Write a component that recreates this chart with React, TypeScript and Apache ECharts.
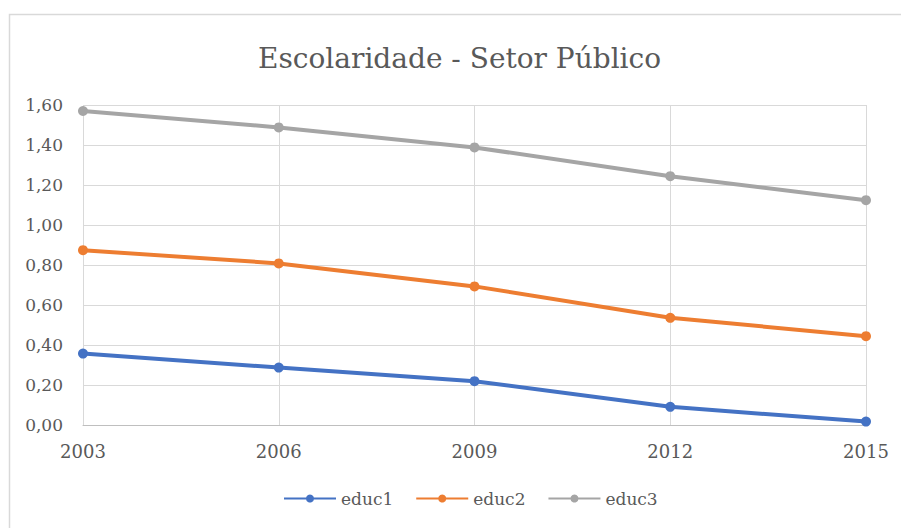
import React, { useEffect, useRef } from "react";
import * as echarts from "echarts";

const years = ["2003", "2006", "2009", "2012", "2015"];
const educ1 = [0.357, 0.287, 0.219, 0.091, 0.017];
const educ2 = [0.874, 0.808, 0.693, 0.536, 0.444];
const educ3 = [1.57, 1.488, 1.388, 1.244, 1.124];
const seriesNames = ["educ1", "educ2", "educ3"];
const colors = ["#4472C4", "#ED7D31", "#A5A5A5"];

export default function App() {
  const ref = useRef<HTMLDivElement>(null);
  useEffect(() => {
    if (!ref.current) return;
    const chart = echarts.init(ref.current, null, { renderer: "svg" });
    const font = "DejaVu Serif";
    const data = [educ1, educ2, educ3];
    chart.setOption({
      animation: false,
      backgroundColor: "#ffffff",
      textStyle: { fontFamily: font },
      title: {
        text: "Escolaridade - Setor Público",
        left: 258,
        top: 44,
        padding: 0,
        textStyle: { fontFamily: font, fontSize: 28, fontWeight: "normal", color: "#595959" },
      },
      graphic: [
        {
          type: "rect",
          shape: { x: 9.5, y: 14.5, width: 900, height: 520 },
          style: { fill: "none", stroke: "#d9d9d9", lineWidth: 1.5 },
          silent: true,
        },
      ],
      legend: {
        bottom: 16,
        left: 278,
        itemWidth: 52,
        itemHeight: 10,
        itemGap: 22,
        textStyle: { fontFamily: font, fontSize: 17, color: "#595959" },
        data: seriesNames,
      },
      grid: { left: 83, right: 35, top: 105, bottom: 103 },
      xAxis: {
        type: "category",
        data: years,
        boundaryGap: false,
        axisLine: { lineStyle: { color: "#bfbfbf", width: 1 } },
        axisTick: { show: false },
        splitLine: { show: true, lineStyle: { color: "#d9d9d9", width: 1 } },
        axisLabel: { fontFamily: font, fontSize: 18, color: "#595959", margin: 17 },
      },
      yAxis: {
        type: "value",
        min: 0,
        max: 1.6,
        interval: 0.2,
        axisLine: { show: false },
        axisTick: { show: false },
        splitLine: { lineStyle: { color: "#d9d9d9", width: 1 } },
        axisLabel: {
          fontFamily: font,
          fontSize: 17,
          color: "#595959",
          margin: 20,
          formatter: (v: number) => v.toFixed(2).replace(".", ","),
        },
      },
      series: seriesNames.map((name, i) => ({
        name,
        type: "line",
        data: data[i],
        color: colors[i],
        symbol: "circle",
        symbolSize: 10,
        lineStyle: { width: 4, color: colors[i] },
        itemStyle: { color: colors[i] },
      })),
    });
    return () => chart.dispose();
  }, []);
  return (
    <div
      ref={ref}
      style={{ position: "absolute", left: 0, top: 0, width: 901, height: 528 }}
    />
  );
}
